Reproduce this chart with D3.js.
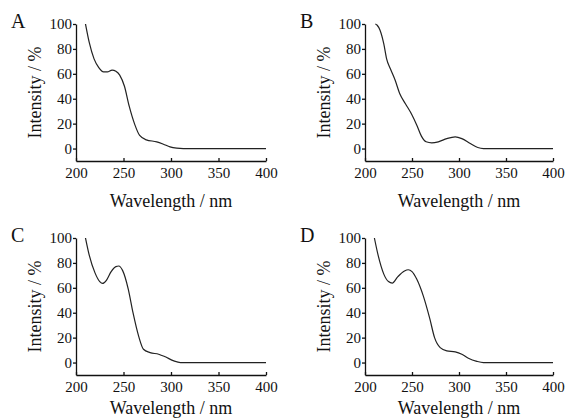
<!DOCTYPE html>
<html>
<head>
<meta charset="utf-8">
<script src="https://cdn.jsdelivr.net/npm/d3@7"></script>
<style>
  body { margin: 0; background: #fff; }
  svg { display: block; }
  svg text { font-family: "Liberation Serif", "DejaVu Serif", serif !important; fill: #111; }
  .axis text { font-size: 15px; }
  .axis path, .axis line { stroke: #111; stroke-width: 1.3px; }
  .title { font-size: 18px; }
  .letter { font-size: 20px; }
  .spectrum { fill: none; stroke: #222; stroke-width: 1.2px; }
</style>
</head>
<body>
<svg id="chart" width="566" height="418"></svg>
<script>
// spectra (wavelength nm, relative intensity %)
const wlA  = [210, 214, 219, 224, 229, 233, 238, 242, 246, 251, 256, 262, 267, 274, 285, 292, 299, 306, 313, 400]
const intA = [100, 85, 72, 65, 61.5, 61.5, 63, 62, 59, 50, 34, 19, 10.5, 7, 5.4, 3.5, 1.3, 0.3, 0, 0]

const wlB  = [211, 213, 216, 220, 223, 227, 232, 237, 243, 250, 255, 260, 265, 271, 278, 287, 296, 303, 312, 320, 326, 400]
const intB = [100, 99, 95, 84, 72, 64, 55, 44, 36, 27, 19, 10, 5.5, 4.6, 5.4, 8, 9.4, 8, 4, 0.8, 0, 0]

const wlC  = [210, 214, 220, 225, 228, 232, 237, 242, 245, 249, 255, 260, 266, 271, 278, 287, 294, 303, 310, 400]
const intC = [100, 86, 72, 65, 63.5, 66, 73, 77, 77.5, 74, 59, 40, 21, 10.7, 8, 6.7, 4.6, 1.3, 0, 0]

const wlD  = [210, 214, 220, 225, 229, 235, 242, 246, 250, 255, 262, 269, 274, 280, 287, 296, 303, 310, 319, 326, 400]
const intD = [100, 86, 71, 65, 63.8, 69, 73.5, 74.5, 73, 67, 53.5, 35, 20, 12, 9.4, 8.6, 6.7, 3.5, 1, 0, 0]

const xTicks = [200, 250, 300, 350, 400]
const yTicks = [0, 20, 40, 60, 80, 100]
const letters = ['A', 'B', 'C', 'D']

let svg = d3.select('#chart')

let panels = [
    {x0: 76,  x1: 266, top: 24,  bottom: 161, titleGap: 46, wl: wlA, val: intA},
    {x0: 365, x1: 553, top: 24,  bottom: 161, titleGap: 46, wl: wlB, val: intB},
    {x0: 76,  x1: 266, top: 238, bottom: 375, titleGap: 39, wl: wlC, val: intC},
    {x0: 365, x1: 553, top: 238, bottom: 375, titleGap: 39, wl: wlD, val: intD}
]

panels.forEach((p, i) => {
    let x = d3.scaleLinear().domain([200, 400]).range([p.x0, p.x1])
    let y = d3.scaleLinear().domain([-10, 100]).range([p.bottom, p.top])

    svg.append('g')
        .attr('class', 'axis')
        .attr('transform', 'translate(0,' + p.bottom + ')')
        .call(d3.axisBottom(x).tickValues(xTicks).tickSizeInner(-3).tickSizeOuter(0).tickPadding(6))

    svg.append('g')
        .attr('class', 'axis')
        .attr('transform', 'translate(' + p.x0 + ',0)')
        .call(d3.axisLeft(y).tickValues(yTicks).tickSizeInner(3).tickSizeOuter(0).tickPadding(1))

    let data = p.wl.map((w, j) => ({x: w, y: p.val[j]}))
    svg.append('path')
        .datum(data)
        .attr('class', 'spectrum')
        .attr('d', d3.line().x(d => x(d.x)).y(d => y(d.y)).curve(d3.curveMonotoneX))

    svg.append('text')
        .attr('class', 'title')
        .attr('x', (p.x0 + p.x1) / 2)
        .attr('y', p.bottom + p.titleGap)
        .attr('text-anchor', 'middle')
        .text('Wavelength / nm')

    svg.append('text')
        .attr('class', 'title')
        .attr('transform', 'translate(' + (p.x0 - 35) + ',' + ((p.top + p.bottom) / 2) + ') rotate(-90)')
        .attr('text-anchor', 'middle')
        .text('Intensity / %')

    svg.append('text')
        .attr('class', 'letter')
        .attr('x', p.x0 - 65)
        .attr('y', p.top + 4)
        .text(letters[i])
})
</script>
</body>
</html>
